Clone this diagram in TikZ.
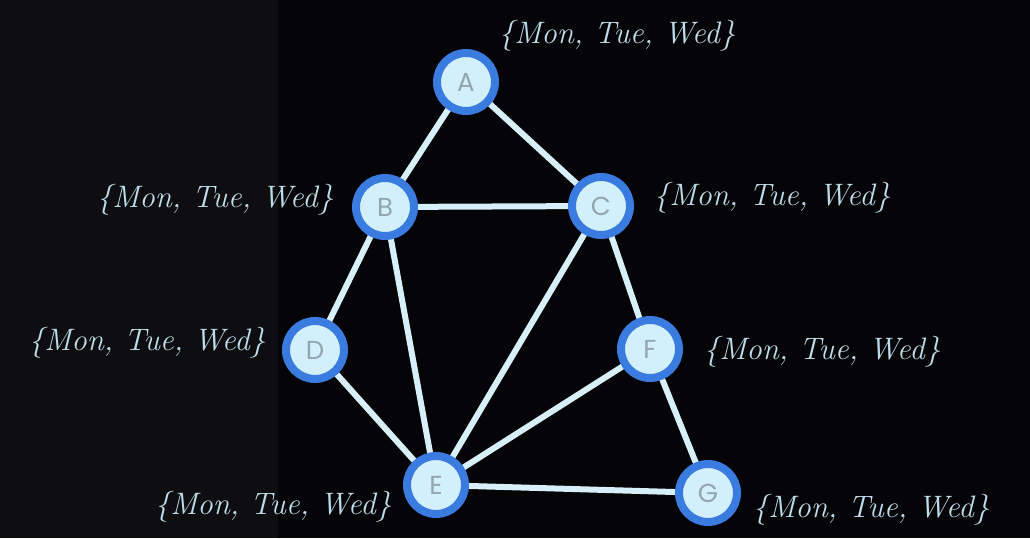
\documentclass[tikz,border=0pt]{standalone}
\usepackage{fontspec}
\newfontfamily\nodefont{Poppins}
\definecolor{bgL}{HTML}{0E0E11}
\definecolor{bgR}{HTML}{050507}
\definecolor{ring}{HTML}{3A7BE0}
\definecolor{nfill}{HTML}{D2F0FB}
\definecolor{edgec}{HTML}{D6EFF8}
\definecolor{lab}{HTML}{BCDDEC}
\definecolor{letter}{HTML}{95A5AD}
\begin{document}
\begin{tikzpicture}[x=1pt,y=1pt,
  vert/.style={circle,draw=ring,line width=8pt,fill=nfill,minimum size=58pt,inner sep=0pt,
    font=\nodefont\fontsize{26}{26}\selectfont,text=letter},
  edge/.style={draw=edgec,line width=6pt},
  dom/.style={font=\itshape\addfontfeatures{FakeBold=1.3}\fontsize{31}{31}\selectfont,text=lab,inner sep=0pt}]
\fill[bgR] (0,0) rectangle (1030,538);
\fill[bgL] (0,0) rectangle (278,538);
\useasboundingbox (0,0) rectangle (1030,538);
\coordinate (pA) at (466,456);
\coordinate (pB) at (385,331);
\coordinate (pC) at (601,332);
\coordinate (pD) at (315,188);
\coordinate (pF) at (650,189);
\coordinate (pE) at (436,53);
\coordinate (pG) at (708,45);
\draw[edge] (pA)--(pB) (pA)--(pC) (pB)--(pC) (pB)--(pD) (pB)--(pE) (pC)--(pE)
  (pC)--(pF) (pD)--(pE) (pE)--(pF) (pE)--(pG) (pF)--(pG);
\node[vert] (A) at (pA) {A};
\node[vert] (B) at (pB) {B};
\node[vert] (C) at (pC) {C};
\node[vert] (D) at (pD) {D};
\node[vert] (F) at (pF) {F};
\node[vert] (E) at (pE) {E};
\node[vert] (G) at (pG) {G};
\node[dom] (lA) at (617,502) {\{Mon, Tue, Wed\}};
\node[dom] (lB) at (215,338) {\{Mon, Tue, Wed\}};
\node[dom] (lC) at (772,340) {\{Mon, Tue, Wed\}};
\node[dom] (lD) at (147,195) {\{Mon, Tue, Wed\}};
\node[dom] (lF) at (822,186) {\{Mon, Tue, Wed\}};
\node[dom] (lE) at (273,31) {\{Mon, Tue, Wed\}};
\node[dom] (lG) at (871,28) {\{Mon, Tue, Wed\}};
\end{tikzpicture}
\end{document}
